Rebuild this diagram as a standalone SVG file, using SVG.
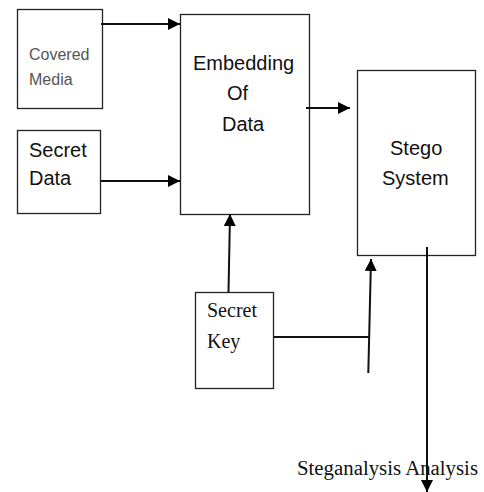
<svg xmlns="http://www.w3.org/2000/svg" width="484" height="492" viewBox="0 0 484 492">
  <style>
    .box { fill: #fff; stroke: #222; stroke-width: 1.3; }
    .sans { font-family: "Liberation Sans", Arial, sans-serif; font-size: 20px; fill: #111; }
    .sans-sm { font-family: "Liberation Sans", Arial, sans-serif; font-size: 16px; fill: #555; }
    .serif { font-family: "Liberation Serif", "Times New Roman", serif; font-size: 20px; fill: #111; }
    .wire { fill: none; stroke: #111; stroke-width: 2; }
  </style>
  <defs>
    <marker id="head" markerWidth="12" markerHeight="12" refX="12" refY="6" orient="auto" markerUnits="userSpaceOnUse">
      <path d="M0,0 L12,6 L0,12 Z" fill="#000"/>
    </marker>
  </defs>
  <rect width="484" height="492" fill="#fff"/>

  <g id="covered-media">
    <rect class="box" x="17.5" y="9.5" width="85" height="99"/>
    <text class="sans-sm" x="29" y="60">Covered</text>
    <text class="sans-sm" x="29" y="85">Media</text>
  </g>

  <g id="secret-data">
    <rect class="box" x="17.5" y="130.5" width="83" height="83"/>
    <text class="sans" x="29" y="157">Secret</text>
    <text class="sans" x="29" y="185">Data</text>
  </g>

  <g id="embedding">
    <rect class="box" x="180.5" y="14.5" width="129" height="200"/>
    <text class="sans" x="193" y="70">Embedding</text>
    <text class="sans" x="227" y="100">Of</text>
    <text class="sans" x="222" y="131">Data</text>
  </g>

  <g id="stego-system">
    <rect class="box" x="357.5" y="70.5" width="118" height="185"/>
    <text class="sans" x="390" y="155">Stego</text>
    <text class="sans" x="382" y="185">System</text>
  </g>

  <g id="secret-key">
    <rect class="box" x="195.5" y="292.5" width="78" height="96"/>
    <text class="serif" x="207" y="317">Secret</text>
    <text class="serif" x="207" y="348">Key</text>
  </g>

  <g id="analysis-label">
    <text class="serif" x="297" y="475" textLength="181" lengthAdjust="spacingAndGlyphs">Steganalysis Analysis</text>
  </g>

  <g id="connectors">
    <line class="wire" x1="101" y1="24" x2="180" y2="24" marker-end="url(#head)"/>
    <line class="wire" x1="101" y1="181" x2="180" y2="181" stroke-width="1.6" marker-end="url(#head)"/>
    <line class="wire" x1="306" y1="108" x2="350" y2="108" marker-end="url(#head)"/>
    <line class="wire" x1="228.5" y1="292" x2="230" y2="214" marker-end="url(#head)"/>
    <line class="wire" x1="274" y1="337" x2="369.5" y2="337"/>
    <line class="wire" x1="368.3" y1="373" x2="371" y2="259" marker-end="url(#head)"/>
    <line class="wire" x1="427" y1="247" x2="427" y2="492" stroke-width="1.6" marker-end="url(#head)"/>
  </g>
</svg>
